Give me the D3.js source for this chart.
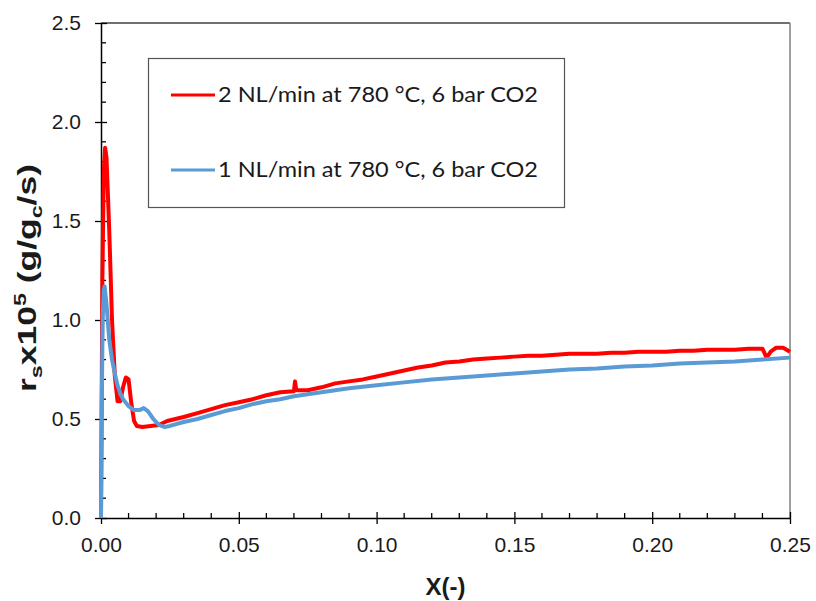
<!DOCTYPE html>
<html><head><meta charset="utf-8">
<script src="https://cdn.jsdelivr.net/npm/d3@7"></script>
<style>body{margin:0;background:#fff}svg{display:block}</style>
</head><body>
<svg id="c" width="816" height="601"></svg>
<script>
const seriesNames = ["2 NL/min at 780 °C, 6 bar CO2", "1 NL/min at 780 °C, 6 bar CO2"];
const seriesColors = ["#FF0000", "#5B9BD5"];
const xTicks = [0, 0.05, 0.10, 0.15, 0.20, 0.25];
const yTicks = [0, 0.5, 1.0, 1.5, 2.0, 2.5];

const redX = [0, 0.0005, 0.001, 0.0015, 0.002, 0.003, 0.004, 0.005, 0.006, 0.007, 0.008, 0.009, 0.010, 0.011, 0.012, 0.013, 0.015, 0.018, 0.021, 0.024, 0.027, 0.030, 0.035, 0.040, 0.045, 0.050, 0.055, 0.060, 0.065, 0.070, 0.0704, 0.0708, 0.0712, 0.075, 0.080, 0.085, 0.090, 0.095, 0.100, 0.105, 0.110, 0.115, 0.120, 0.125, 0.130, 0.135, 0.140, 0.145, 0.150, 0.155, 0.160, 0.165, 0.170, 0.175, 0.180, 0.185, 0.190, 0.195, 0.200, 0.205, 0.210, 0.215, 0.220, 0.225, 0.230, 0.235, 0.240, 0.2415, 0.243, 0.245, 0.2475, 0.250];
const redY = [0, 1.2, 1.75, 1.87, 1.82, 1.45, 1.0, 0.72, 0.59, 0.59, 0.66, 0.71, 0.70, 0.58, 0.49, 0.465, 0.46, 0.465, 0.47, 0.49, 0.50, 0.51, 0.53, 0.55, 0.57, 0.585, 0.60, 0.62, 0.635, 0.64, 0.69, 0.65, 0.645, 0.645, 0.66, 0.68, 0.69, 0.70, 0.715, 0.73, 0.745, 0.76, 0.77, 0.785, 0.79, 0.80, 0.805, 0.81, 0.815, 0.82, 0.82, 0.825, 0.83, 0.83, 0.83, 0.835, 0.835, 0.84, 0.84, 0.84, 0.845, 0.845, 0.85, 0.85, 0.85, 0.855, 0.855, 0.81, 0.84, 0.86, 0.86, 0.84];

const blueX = [0, 0.0003, 0.0006, 0.001, 0.0013, 0.002, 0.003, 0.004, 0.005, 0.006, 0.007, 0.008, 0.010, 0.012, 0.014, 0.0155, 0.017, 0.019, 0.021, 0.023, 0.025, 0.030, 0.035, 0.040, 0.045, 0.050, 0.055, 0.060, 0.065, 0.070, 0.080, 0.090, 0.100, 0.110, 0.120, 0.130, 0.140, 0.150, 0.160, 0.170, 0.180, 0.190, 0.200, 0.210, 0.220, 0.230, 0.240, 0.250];
const blueY = [0, 0.6, 1.0, 1.15, 1.17, 1.08, 0.9, 0.8, 0.73, 0.67, 0.63, 0.60, 0.565, 0.545, 0.545, 0.555, 0.54, 0.50, 0.47, 0.46, 0.465, 0.485, 0.50, 0.52, 0.54, 0.555, 0.575, 0.59, 0.60, 0.615, 0.635, 0.655, 0.67, 0.685, 0.70, 0.71, 0.72, 0.73, 0.74, 0.75, 0.755, 0.765, 0.77, 0.78, 0.785, 0.79, 0.80, 0.81];

const svg = d3.select("#c");
const L = 101, R = 790, T = 23, B = 518;
const x = d3.scaleLinear().domain([0, 0.25]).range([L, R]);
const y = d3.scaleLinear().domain([0, 2.5]).range([B, T]);
const font = "'Liberation Sans', Arial, sans-serif";

// frame top & right
svg.append("line").attr("x1", L).attr("x2", R).attr("y1", T).attr("y2", T).attr("stroke", "#404040").attr("stroke-width", 1.3);
svg.append("line").attr("x1", R).attr("x2", R).attr("y1", T).attr("y2", B).attr("stroke", "#808080").attr("stroke-width", 1.5);

// minor ticks
const xMinor = d3.range(1, 25).map(i => i * 0.01).filter(v => Math.abs(v * 20 - Math.round(v * 20)) > 1e-6);
svg.append("g").selectAll("line").data(xMinor).join("line")
  .attr("x1", d => x(d)).attr("x2", d => x(d)).attr("y1", B).attr("y2", B - 5)
  .attr("stroke", "#000").attr("stroke-width", 1.3);
const yMinor = d3.range(1, 25).map(i => i * 0.1).filter(v => Math.abs(v * 2 - Math.round(v * 2)) > 1e-6);
svg.append("g").selectAll("line").data(yMinor).join("line")
  .attr("x1", L).attr("x2", L + 5).attr("y1", d => y(d)).attr("y2", d => y(d))
  .attr("stroke", "#000").attr("stroke-width", 1.3);

// axes
const xAxis = svg.append("g").attr("transform", `translate(0,${B})`)
  .call(d3.axisBottom(x).tickValues(xTicks).tickFormat(d3.format(".2f")).tickSizeInner(6).tickSizeOuter(0).tickPadding(13));
xAxis.selectAll(".tick line").attr("y1", -6).attr("stroke-width", 1.3);
xAxis.select(".domain").attr("stroke-width", 1.5);
xAxis.selectAll("text").attr("font-family", font).attr("font-size", 21).attr("fill", "#1a1a1a");

const yAxis = svg.append("g").attr("transform", `translate(${L},0)`)
  .call(d3.axisLeft(y).tickValues(yTicks).tickFormat(d3.format(".1f")).tickSizeInner(6).tickSizeOuter(0).tickPadding(14));
yAxis.selectAll(".tick line").attr("x1", 6).attr("stroke-width", 1.3);
yAxis.select(".domain").attr("stroke-width", 1.5);
yAxis.selectAll("text").attr("font-family", font).attr("font-size", 21).attr("fill", "#1a1a1a");

// lines
const line = d3.line().x(d => x(d[0])).y(d => y(d[1]));
svg.append("path").datum(redX.map((v, i) => [v, redY[i]]))
  .attr("d", line).attr("fill", "none").attr("stroke", seriesColors[0]).attr("stroke-width", 4).attr("stroke-linejoin", "round");
svg.append("path").datum(blueX.map((v, i) => [v, blueY[i]]))
  .attr("d", line).attr("fill", "none").attr("stroke", seriesColors[1]).attr("stroke-width", 4).attr("stroke-linejoin", "round");

// legend
svg.append("rect").attr("x", 148.5).attr("y", 58.5).attr("width", 416).attr("height", 149)
  .attr("fill", "#fff").attr("stroke", "#555").attr("stroke-width", 1.2);
const legY = [95, 170];
seriesNames.forEach((n, i) => {
  svg.append("line").attr("x1", 171).attr("x2", 215).attr("y1", legY[i]).attr("y2", legY[i])
    .attr("stroke", seriesColors[i]).attr("stroke-width", 3);
  svg.append("text").attr("x", 218).attr("y", legY[i] + 7).text(n)
    .attr("font-family", "Lato, 'Open Sans', sans-serif").attr("font-size", 21).attr("fill", "#1a1a1a")
    .attr("textLength", 320).attr("lengthAdjust", "spacingAndGlyphs");
});

// axis titles
svg.append("text").attr("x", x(0.125)).attr("y", 595).attr("text-anchor", "middle")
  .attr("font-family", font).attr("font-weight", "bold").attr("font-size", 24).attr("fill", "#1a1a1a")
  .text("X(-)");
const yt = svg.append("text").attr("transform", `translate(36,278) rotate(-90)`).attr("text-anchor", "middle")
  .attr("font-family", font).attr("font-weight", "bold").attr("font-size", 26).attr("fill", "#1a1a1a")
  .attr("textLength", 228).attr("lengthAdjust", "spacingAndGlyphs");
yt.append("tspan").text("r");
yt.append("tspan").text("s").attr("font-size", 17).attr("dy", 6);
yt.append("tspan").text("x10").attr("dy", -6);
yt.append("tspan").text("5").attr("font-size", 17).attr("dy", -10);
yt.append("tspan").text(" (g/g").attr("dy", 10);
yt.append("tspan").text("c").attr("font-size", 17).attr("dy", 6);
yt.append("tspan").text("/s)").attr("dy", -6);
</script>
</body></html>
